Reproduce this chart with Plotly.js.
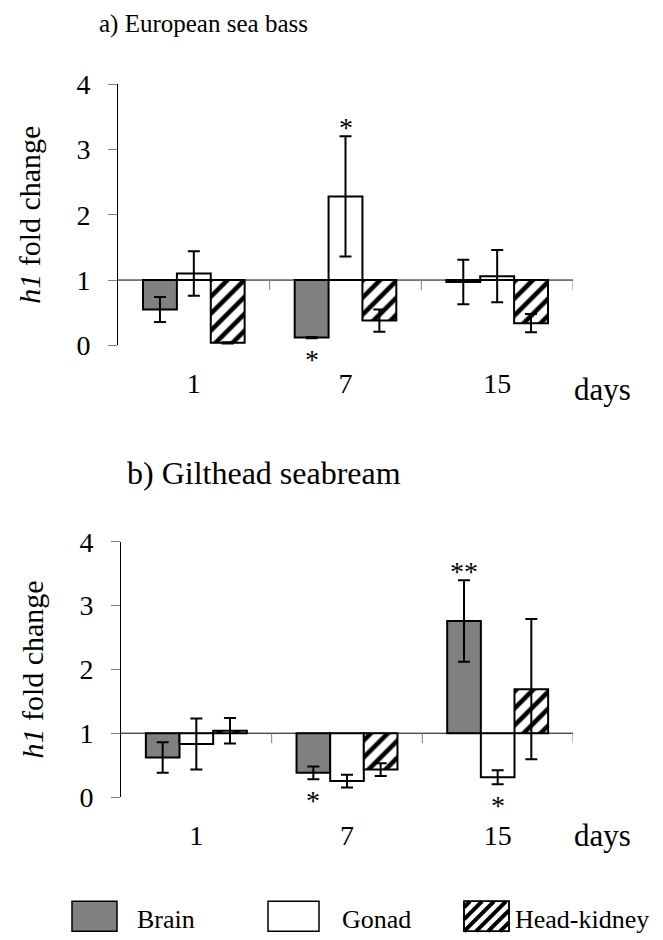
<!DOCTYPE html>
<html><head><meta charset="utf-8">
<script src="https://cdn.plot.ly/plotly-3.0.1.min.js"></script>
<style>html,body{margin:0;padding:0;background:#fff}</style>
</head><body><div id="chart" style="width:663px;height:940px"></div>
<script>
// ---- data ----
const days = ['1', '7', '15'];
const seriesNames = ['Brain', 'Gonad', 'Head-kidney'];
const panelTitles = ['a) European sea bass', 'b) Gilthead seabream'];
const yTicks = [0, 1, 2, 3, 4];

// a) European sea bass (fold change, mean and error)
const bassBrain = [0.55, 0.12, 0.97];
const bassBrainErr = [0.19, 0.01, 0.34];
const bassGonad = [1.10, 2.28, 1.06];
const bassGonadErr = [0.34, 0.92, 0.40];
const bassHK = [0.04, 0.38, 0.34];
const bassHKErr = [0.01, 0.17, 0.14];

// b) Gilthead seabream
const breamBrain = [0.62, 0.38, 2.76];
const breamBrainErr = [0.24, 0.10, 0.64];
const breamGonad = [0.83, 0.25, 0.31];
const breamGonadErr = [0.40, 0.10, 0.11];
const breamHK = [1.04, 0.43, 1.69];
const breamHKErr = [0.20, 0.10, 1.10];

// significance marks
const sigPanel = [0, 0, 1, 1, 1];
const sigDay = [1, 1, 1, 2, 2];
const sigSeries = [1, 0, 0, 0, 1];
const sigText = ['*', '*', '*', '**', '*'];
const sigSide = ['above', 'below', 'below', 'above', 'below'];

// ---- geometry helpers ----
const W = 663, H = 940, L = 118, R = 90, T = 84, B = 143.3;
const PW = W - L - R, PH = H - T - B;
const px2x = p => (p - L) / PW;
const py2y = p => (H - B - p) / PH;

const FONT = 'Liberation Serif';
const fills = [
  {color: '#808080'},
  {color: '#ffffff'},
  {color: '#ffffff', pattern: {shape: '/', fgcolor: '#000000', bgcolor: '#ffffff', size: 12, solidity: 0.38, fillmode: 'replace'}}
];

const panels = [
  {vals: [bassBrain, bassGonad, bassHK], errs: [bassBrainErr, bassGonadErr, bassHKErr]},
  {vals: [breamBrain, breamGonad, breamHK], errs: [breamBrainErr, breamGonadErr, breamHKErr]}
];

const traces = [];
panels.forEach((p, pi) => {
  const xa = pi === 0 ? 'x' : 'x2', ya = pi === 0 ? 'y' : 'y2';
  p.vals.forEach((v, si) => {
    const m = Object.assign({}, fills[si], {line: {color: '#000000', width: 2}});
    traces.push({
      type: 'bar', name: seriesNames[si], x: days,
      y: v.map(d => d - 1), base: 1,
      customdata: v,
      hovertemplate: seriesNames[si] + ' day %{x}: %{customdata}<extra></extra>',
      marker: m,
      error_y: {type: 'data', array: p.errs[si], visible: true, color: '#000000', thickness: 2, width: 6},
      xaxis: xa, yaxis: ya, showlegend: false
    });
  });
});

const axisY = (dom) => ({
  domain: dom, range: [0, 4], tickvals: yTicks, ticks: 'outside', ticklen: 9,
  tickcolor: '#808080', tickwidth: 1, showline: true, linecolor: '#000000', linewidth: 1,
  showgrid: false, zeroline: false, automargin: false, ticklabelstandoff: 12,
  tickfont: {family: FONT, size: 28, color: '#000000'},
  title: {text: '<i>h1</i> fold change', font: {family: FONT, size: 30, color: '#000000'}, standoff: 26},
  fixedrange: true
});
const axisX = (dom, anchor) => ({
  domain: dom, type: 'category', range: [-0.5, 2.5], anchor: anchor,
  showline: false, ticks: '', showgrid: false, zeroline: false, automargin: false,
  ticklabelstandoff: 19, tickfont: {family: FONT, size: 28, color: '#000000'}, fixedrange: true
});

const shapes = [];
const annotations = [];
['x', 'x2'].forEach((xa, pi) => {
  const ya = pi === 0 ? 'y' : 'y2';
  shapes.push({type: 'line', xref: xa + ' domain', yref: ya, x0: 0, x1: 1, y0: 1, y1: 1,
    line: {color: '#000000', width: 1}, layer: 'above'});
  [0.5, 1.5, 2.5].forEach(b => shapes.push({type: 'line', xref: xa, yref: ya, x0: b, x1: b,
    ysizemode: 'pixel', yanchor: 1, y0: 0, y1: -10, line: {color: '#808080', width: 1}, layer: 'above'}));
});

// panel titles
annotations.push({text: panelTitles[0], xref: 'paper', yref: 'paper', x: px2x(97), y: py2y(24),
  xanchor: 'left', yanchor: 'middle', showarrow: false, font: {family: FONT, size: 25, color: '#000'}});
annotations.push({text: panelTitles[1], xref: 'paper', yref: 'paper', x: px2x(125), y: py2y(473),
  xanchor: 'left', yanchor: 'middle', showarrow: false, font: {family: FONT, size: 32, color: '#000'}});
// "days" labels
[389, 835].forEach(py => annotations.push({text: 'days', xref: 'paper', yref: 'paper', x: px2x(602), y: py2y(py),
  xanchor: 'center', yanchor: 'middle', showarrow: false, font: {family: FONT, size: 31, color: '#000'}}));

// significance asterisks
const barOff = [-34, 0, 34];
sigPanel.forEach((pi, i) => {
  const p = panels[pi], si = sigSeries[i], di = sigDay[i];
  const v = p.vals[si][di], e = p.errs[si][di];
  const above = sigSide[i] === 'above';
  annotations.push({text: sigText[i], xref: pi === 0 ? 'x' : 'x2', yref: pi === 0 ? 'y' : 'y2',
    x: di, y: above ? v + e : v - e, xshift: barOff[si], yshift: above ? 9 : -21,
    xanchor: 'center', yanchor: 'middle', showarrow: false, font: {family: FONT, size: 28, color: '#000'}});
});

// legend (drawn keys)
const legKeys = [[72, 117], [268, 319], [464, 509]];
const legText = [135, 340, 513];
const ly0 = 901, ly1 = 931;
legKeys.forEach((k, i) => {
  shapes.push({type: 'rect', xref: 'paper', yref: 'paper', x0: px2x(k[0]), x1: px2x(k[1]), y0: py2y(ly1), y1: py2y(ly0),
    fillcolor: fills[i].color, line: {color: '#000000', width: 1.5}, layer: 'above'});
  annotations.push({text: seriesNames[i], xref: 'paper', yref: 'paper', x: px2x(legText[i]), y: py2y(919),
    xanchor: 'left', yanchor: 'middle', showarrow: false, font: {family: FONT, size: 26, color: '#000'}});
});
// hatch in head-kidney key
(function () {
  const x0 = legKeys[2][0], x1 = legKeys[2][1];
  for (let k = x0 + ly0 + 6; k < x1 + ly1; k += 12) {
    const sx = Math.max(x0, k - ly1), sy = k - sx;
    const ex = Math.min(x1, k - ly0), ey = k - ex;
    if (ex <= sx) continue;
    shapes.push({type: 'line', xref: 'paper', yref: 'paper', x0: px2x(sx), y0: py2y(sy), x1: px2x(ex), y1: py2y(ey),
      line: {color: '#000000', width: 4}, layer: 'above'});
  }
  shapes.push({type: 'rect', xref: 'paper', yref: 'paper', x0: px2x(x0), x1: px2x(x1), y0: py2y(ly1), y1: py2y(ly0),
    fillcolor: 'rgba(0,0,0,0)', line: {color: '#000000', width: 1.5}, layer: 'above'});
})();

const topDom = [py2y(345.3), 1];
const botDom = [0, py2y(541.7)];
const layout = {
  width: W, height: H,
  margin: {l: L, r: R, t: T, b: B, pad: 0},
  paper_bgcolor: '#ffffff', plot_bgcolor: 'rgba(0,0,0,0)',
  barmode: 'group', bargap: 0.33, bargroupgap: 0,
  showlegend: false,
  font: {family: FONT, color: '#000000'},
  xaxis: axisX([0, (573 - L) / PW], 'y'),
  yaxis: axisY(topDom),
  xaxis2: axisX([(121 - L) / PW, 1], 'y2'),
  yaxis2: Object.assign(axisY(botDom), {anchor: 'x2'}),
  shapes: shapes, annotations: annotations
};
layout.yaxis.anchor = 'x';

Plotly.newPlot('chart', traces, layout, {displayModeBar: false, staticPlot: true});
</script></body></html>
